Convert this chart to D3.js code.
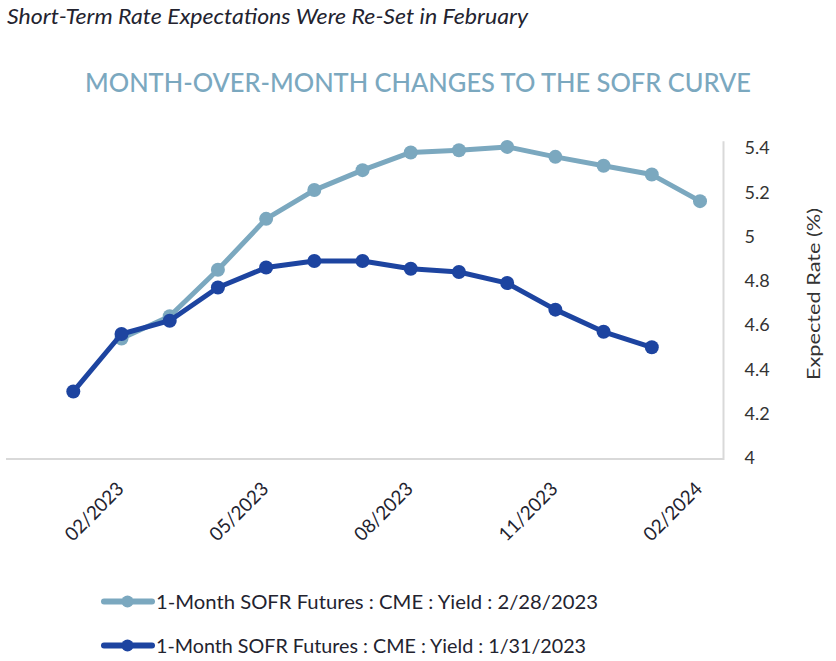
<!DOCTYPE html>
<html>
<head>
<meta charset="utf-8">
<script src="https://cdn.jsdelivr.net/npm/d3@7"></script>
<style>
  html, body { margin: 0; padding: 0; background: #ffffff; }
  svg { display: block; }
</style>
</head>
<body>
<svg id="chart" width="836" height="661"></svg>
<script>
// ---- data ----
const months = ["01/2023","02/2023","03/2023","04/2023","05/2023","06/2023","07/2023",
                "08/2023","09/2023","10/2023","11/2023","12/2023","01/2024","02/2024"];
const yieldFeb28 = [null, 4.54, 4.64, 4.85, 5.08, 5.21, 5.30, 5.38, 5.39, 5.405, 5.36, 5.32, 5.28, 5.16];
const yieldJan31 = [4.30, 4.56, 4.62, 4.77, 4.86, 4.89, 4.89, 4.855, 4.84, 4.79, 4.67, 4.57, 4.50, null];
const xTickLabels = ["02/2023","05/2023","08/2023","11/2023","02/2024"];
const yTicks = [4, 4.2, 4.4, 4.6, 4.8, 5, 5.2, 5.4];
const seriesNames = ["1-Month SOFR Futures : CME : Yield : 2/28/2023",
                     "1-Month SOFR Futures : CME : Yield : 1/31/2023"];
const seriesColors = ["#7BA8BF", "#1D44A0"];

const titleText = "Short-Term Rate Expectations Were Re-Set in February";
const headText = "MONTH-OVER-MONTH CHANGES TO THE SOFR CURVE";
const yTitle = "Expected Rate (%)";

const FONT = "Lato, 'Open Sans', sans-serif";
const svg = d3.select("#chart");

const x = d3.scalePoint().domain(months).range([73.3, 700]);
const y = d3.scaleLinear().domain([4, 5.4]).range([458, 148]);

// titles
svg.append("text")
  .attr("x", 7).attr("y", 24)
  .attr("font-family", FONT).attr("font-style", "italic")
  .attr("font-size", 21).attr("fill", "#23232f")
  .attr("textLength", 521).attr("lengthAdjust", "spacingAndGlyphs")
  .text(titleText);

svg.append("text")
  .attr("x", 85).attr("y", 91.5)
  .attr("font-family", FONT).attr("font-weight", 500)
  .attr("font-size", 26).attr("fill", "#7BA8BF")
  .attr("textLength", 666).attr("lengthAdjust", "spacingAndGlyphs")
  .text(headText);

// axis lines
svg.append("line")
  .attr("x1", 6).attr("x2", 723.5)
  .attr("y1", y(4) + 1).attr("y2", y(4) + 1)
  .attr("stroke", "#d9d9d9").attr("stroke-width", 2);
svg.append("line")
  .attr("x1", 723.5).attr("x2", 723.5)
  .attr("y1", y(5.43)).attr("y2", y(4) + 2)
  .attr("stroke", "#d9d9d9").attr("stroke-width", 2);

// y axis (right)
const yAxis = svg.append("g")
  .attr("transform", "translate(723.5,0)")
  .call(d3.axisRight(y).tickValues(yTicks).tickSize(0).tickPadding(21).tickFormat(d => String(d)));
yAxis.select(".domain").remove();
yAxis.selectAll("text")
  .attr("font-family", FONT).attr("font-size", 18).attr("fill", "#333333");

// y title
svg.append("text")
  .attr("transform", `translate(${820},${294}) rotate(-90)`)
  .attr("text-anchor", "middle")
  .attr("font-family", FONT).attr("font-size", 18).attr("fill", "#333333")
  .attr("textLength", 172).attr("lengthAdjust", "spacingAndGlyphs")
  .text(yTitle);

// x axis
const xAxis = svg.append("g")
  .attr("transform", `translate(0,${y(4)})`)
  .call(d3.axisBottom(x).tickValues(xTickLabels).tickSize(0));
xAxis.select(".domain").remove();
xAxis.selectAll("text")
  .attr("x", 0).attr("y", 0).attr("dy", null)
  .attr("text-anchor", "end")
  .attr("transform", "translate(3,32) rotate(-45)")
  .attr("font-family", FONT).attr("font-size", 19).attr("fill", "#23232f")
  .attr("textLength", 74).attr("lengthAdjust", "spacingAndGlyphs");

// series
const seriesData = [yieldFeb28, yieldJan31];
const line = d3.line()
  .defined(d => d.v != null)
  .x(d => x(d.m)).y(d => y(d.v));

seriesData.forEach((vals, i) => {
  const pts = months.map((m, j) => ({ m, v: vals[j] }));
  const g = svg.append("g");
  g.append("path")
    .datum(pts)
    .attr("fill", "none")
    .attr("stroke", seriesColors[i])
    .attr("stroke-width", 5)
    .attr("stroke-linejoin", "round")
    .attr("stroke-linecap", "round")
    .attr("d", line);
  g.selectAll("circle")
    .data(pts.filter(d => d.v != null))
    .join("circle")
    .attr("cx", d => x(d.m)).attr("cy", d => y(d.v))
    .attr("r", 7)
    .attr("fill", seriesColors[i]);
});

// legend
const legendY = [601.5, 645.5];
seriesNames.forEach((name, i) => {
  const g = svg.append("g").attr("transform", `translate(0,${legendY[i]})`);
  g.append("line")
    .attr("x1", 104).attr("x2", 152).attr("y1", 0).attr("y2", 0)
    .attr("stroke", seriesColors[i]).attr("stroke-width", 6)
    .attr("stroke-linecap", "round");
  g.append("circle").attr("cx", 127.5).attr("cy", 0).attr("r", 6)
    .attr("fill", seriesColors[i]);
  g.append("text")
    .attr("x", 156).attr("y", 7)
    .attr("font-family", FONT).attr("font-size", 20).attr("fill", "#23232f")
    .attr("textLength", i === 0 ? 442 : 430).attr("lengthAdjust", "spacingAndGlyphs")
    .text(name);
});
</script>
</body>
</html>
